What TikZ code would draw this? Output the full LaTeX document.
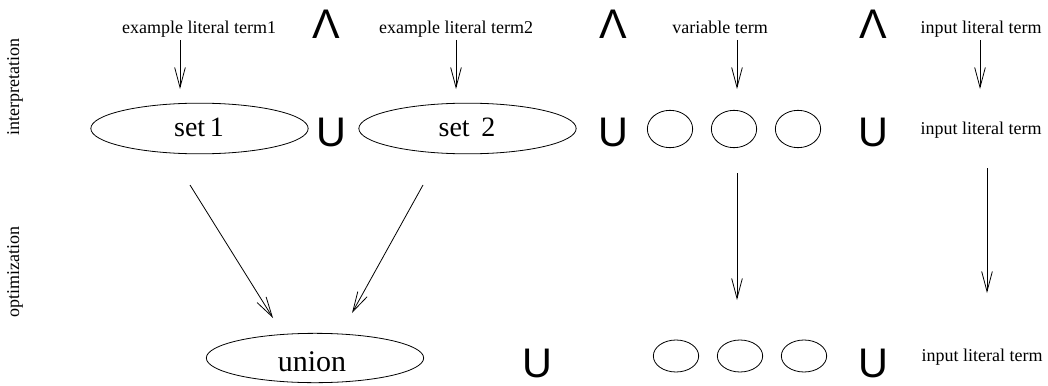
\documentclass[tikz,border=0pt]{standalone}
\usepackage{fontspec}
\setmainfont{Liberation Serif}
\newfontfamily\symfont{Liberation Sans}
\usetikzlibrary{arrows.meta,shapes.geometric}
\tikzset{
  lbl/.style={font=\fontsize{13.5}{14}\selectfont, inner sep=0pt, anchor=base},
  sidelbl/.style={font=\fontsize{13.5}{14}\selectfont, inner sep=0pt, rotate=90},
  opsym/.style={font=\symfont\fontsize{31}{31}\selectfont, inner sep=0pt, anchor=base},
  bigset/.style={draw, ellipse, line width=0.6pt, inner sep=0pt, minimum width=163pt, minimum height=38pt},
  smallset/.style={draw, ellipse, line width=0.6pt, inner sep=0pt, minimum width=34pt},
  settext/.style={font=\fontsize{21}{22}\selectfont, inner sep=0pt, anchor=base},
  arr/.style={line width=0.6pt, -{Straight Barb[length=15pt,width=8pt,line width=0.6pt]}}
}
\begin{document}
\begin{tikzpicture}[x=0.75pt,y=-0.75pt]
\useasboundingbox (0,0) rectangle (1048,385);
% side labels
\node[sidelbl] (interp) at (15,87) {interpretation};
\node[sidelbl] (optim) at (15,272) {optimization};
% top labels
\node[lbl] (t1) at (199,34) {example literal term1};
\node[lbl] (t2) at (456,34) {example literal term2};
\node[lbl] (t3) at (720,34) {variable term};
\node[lbl] (t4) at (981,34) {input literal term};
\node[opsym] (and1) at (326,39) {Λ};
\node[opsym] (and2) at (613,39) {Λ};
\node[opsym] (and3) at (873,39) {Λ};
% row 2
\node[bigset] (set1) at (199.5,128.5) {};
\node[settext] (set1t) at (199,136) {set\,1};
\node[bigset] (set2) at (467.5,128.5) {};
\node[settext] (set2t) at (467,136) {set\, 2};
\node[opsym] (u1) at (331,146.5) {U};
\node[opsym] (u2) at (613,146.5) {U};
\node[opsym] (u3) at (873,146.5) {U};
\node[smallset, minimum height=28pt] (v1) at (670,129) {};
\node[smallset, minimum height=28pt] (v2) at (734,129) {};
\node[smallset, minimum height=28pt] (v3) at (798,129) {};
\node[lbl] (in2) at (981,134) {input literal term};
% row 3
\node[draw, ellipse, line width=0.6pt, inner sep=0pt, minimum width=163pt, minimum height=37pt] (union) at (315,358) {};
\node[font=\fontsize{22.5}{23}\selectfont, inner sep=0pt, anchor=base] (uniont) at (312,371) {union};
\node[opsym] (u4) at (537,377) {U};
\node[opsym] (u5) at (873,377) {U};
\node[smallset, minimum height=24pt] (w1) at (676,356) {};
\node[smallset, minimum height=24pt] (w2) at (740,356) {};
\node[smallset, minimum height=24pt] (w3) at (804,356) {};
\node[lbl] (in3) at (982,361) {input literal term};
% arrow end points
\coordinate (a1s) at (180,40);  \coordinate (a1e) at (180,89);
\coordinate (a2s) at (456,40);  \coordinate (a2e) at (456,89);
\coordinate (a3s) at (737,40);  \coordinate (a3e) at (737,89);
\coordinate (a4s) at (980,40);  \coordinate (a4e) at (980,89);
\coordinate (b1s) at (190,185); \coordinate (b1e) at (273,318);
\coordinate (b2s) at (423,185); \coordinate (b2e) at (352,313);
\coordinate (b3s) at (737,173); \coordinate (b3e) at (737,300);
\coordinate (b4s) at (987,168); \coordinate (b4e) at (987,293);
\draw[arr] (a1s) -- (a1e);
\draw[arr] (a2s) -- (a2e);
\draw[arr] (a3s) -- (a3e);
\draw[arr] (a4s) -- (a4e);
\draw[arr] (b1s) -- (b1e);
\draw[arr] (b2s) -- (b2e);
\draw[arr] (b3s) -- (b3e);
\draw[arr] (b4s) -- (b4e);
\end{tikzpicture}
\end{document}
